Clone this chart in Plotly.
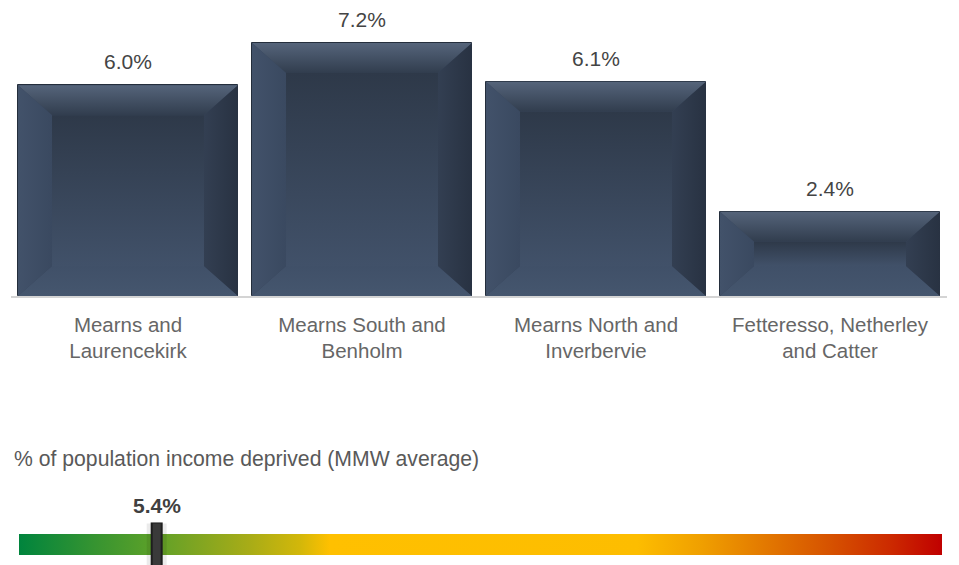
import plotly.graph_objects as go

# Ward-level share of population income deprived
categories = ["Mearns and<br>Laurencekirk", "Mearns South and<br>Benholm",
              "Mearns North and<br>Inverbervie", "Fetteresso, Netherley<br>and Catter"]
values = [6.0, 7.2, 6.1, 2.4]
value_labels = ["6.0%", "7.2%", "6.1%", "2.4%"]

# Area average shown on the gauge
average_value = 5.4
average_label = "5.4%"
gauge_max = 36.2
gauge_title = "% of population income deprived (MMW average)"

W, H = 959, 565
FONT = "Liberation Sans, Arial, sans-serif"

# pixel geometry of the main plot area
x_left_px, x_right_px = 11, 947
y_top_px, y_base_px = 15, 296
y_max = 8.0
bar_width = 0.94

px_per_cat = (x_right_px - x_left_px) / len(categories)
px_per_unit = (y_base_px - y_top_px) / y_max

fig = go.Figure()

xs = list(range(len(categories)))

fig.add_trace(go.Bar(
    x=xs, y=values, width=bar_width,
    marker=dict(color="#36445a", line=dict(color="#242e3c", width=1)),
    hoverinfo="skip", showlegend=False,
))

# bevelled faces drawn on top of each bar
bev_x = 34 / px_per_cat
bev_y_max = 30 / px_per_unit


def poly(px, py, scale, kind="vertical"):
    fig.add_trace(go.Scatter(
        x=px + [px[0]], y=py + [py[0]], mode="lines", fill="toself",
        line=dict(width=0), fillgradient=dict(type=kind, colorscale=scale),
        hoverinfo="skip", showlegend=False,
    ))


for i, v in zip(xs, values):
    x0, x1 = i - bar_width / 2, i + bar_width / 2
    by = min(bev_y_max, v / 2 * 0.98)
    bx = min(bev_x, by * px_per_unit / px_per_cat * 1.2)
    ix0, ix1 = x0 + bx, x1 - bx
    iy0, iy1 = by, v - by
    # centre face
    poly([ix0, ix1, ix1, ix0], [iy0, iy0, iy1, iy1],
         [[0, "#415169"], [1, "#2e3949"]])
    # top face
    poly([x0, x1, ix1, ix0], [v, v, iy1, iy1],
         [[0, "#313d4e"], [1, "#55647a"]])
    # bottom face
    poly([x0, x1, ix1, ix0], [0, 0, iy0, iy0],
         [[0, "#45566e"], [1, "#405068"]])
    # left face
    poly([x0, ix0, ix0, x0], [0, iy0, iy1, v],
         [[0, "#42526a"], [1, "#3a4960"]], "horizontal")
    # right face
    poly([ix1, x1, x1, ix1], [iy0, 0, v, iy1],
         [[0, "#333f52"], [1, "#283242"]], "horizontal")

# value labels above bars
for i, v, lab in zip(xs, values, value_labels):
    fig.add_annotation(x=i, y=v, xref="x", yref="y", text=lab, showarrow=False,
                       yanchor="bottom", yshift=10,
                       font=dict(family=FONT, size=21, color="#444444"))

# ---- gauge ----
g_left_px, g_right_px = 19, 942
band_top_px, band_bot_px = 534, 555
g_px_per_unit = band_bot_px - band_top_px
g_dom_top_px = 519
r0 = -(H - band_bot_px) / g_px_per_unit
r1 = r0 + (H - g_dom_top_px) / g_px_per_unit

gauge_scale = [
    [0.0, "#00843d"], [0.088, "#3a9530"], [0.142, "#5aa029"], [0.185, "#7aa423"],
    [0.25, "#a8ac17"], [0.304, "#d2b70a"], [0.337, "#ffc000"], [0.67, "#fdbd00"],
    [0.738, "#f0a000"], [0.824, "#e07000"], [0.879, "#d65200"], [0.944, "#cc2a00"],
    [1.0, "#c00000"],
]
fig.add_trace(go.Scatter(
    x=[0, gauge_max, gauge_max, 0, 0], y=[0, 0, 1, 1, 0],
    xaxis="x2", yaxis="y2", mode="lines", fill="toself", line=dict(width=0),
    fillgradient=dict(type="horizontal", colorscale=gauge_scale),
    hoverinfo="skip", showlegend=False,
))
# pointer shadow and pointer
fig.add_trace(go.Scatter(
    x=[average_value, average_value], y=[r0, 1.5], xaxis="x2", yaxis="y2",
    mode="lines", line=dict(color="rgba(0,0,0,0.08)", width=20),
    hoverinfo="skip", showlegend=False,
))
fig.add_trace(go.Scatter(
    x=[average_value, average_value], y=[r0, 1.55], xaxis="x2", yaxis="y2",
    mode="lines", line=dict(color="#1e1e1e", width=12),
    hoverinfo="skip", showlegend=False,
))
fig.add_trace(go.Scatter(
    x=[average_value, average_value], y=[r0, 1.5], xaxis="x2", yaxis="y2",
    mode="lines", line=dict(color="#3a3a3a", width=8),
    hoverinfo="skip", showlegend=False,
))
fig.add_annotation(x=average_value, y=1.55, xref="x2", yref="y2", text="<b>" + average_label + "</b>",
                   showarrow=False, yanchor="bottom", yshift=3,
                   font=dict(family=FONT, size=21, color="#404040"))

fig.add_annotation(x=12 / W, y=1 - 459 / H, xref="paper", yref="paper", text=gauge_title,
                   showarrow=False, xanchor="left", yanchor="middle",
                   font=dict(family=FONT, size=21.2, color="#595959"))

fig.update_layout(
    width=W, height=H,
    margin=dict(l=0, r=0, t=0, b=0),
    paper_bgcolor="white", plot_bgcolor="white",
    bargap=0, showlegend=False,
    xaxis=dict(
        domain=[x_left_px / W, x_right_px / W], range=[-0.5, len(categories) - 0.5],
        tickmode="array", tickvals=xs, ticktext=categories,
        showgrid=False, zeroline=False, ticks="",
        showline=True, linecolor="#d4d4d4", linewidth=2,
        ticklabelstandoff=9,
        tickfont=dict(family=FONT, size=20.5, color="#666666"),
        fixedrange=True,
    ),
    yaxis=dict(
        domain=[1 - y_base_px / H, 1 - y_top_px / H], range=[0, y_max],
        visible=False, fixedrange=True,
    ),
    xaxis2=dict(
        domain=[g_left_px / W, g_right_px / W], range=[0, gauge_max],
        visible=False, anchor="y2", fixedrange=True,
    ),
    yaxis2=dict(
        domain=[0, (H - g_dom_top_px) / H], range=[r0, r1],
        visible=False, anchor="x2", fixedrange=True,
    ),
)

fig.write_html("out.html")
